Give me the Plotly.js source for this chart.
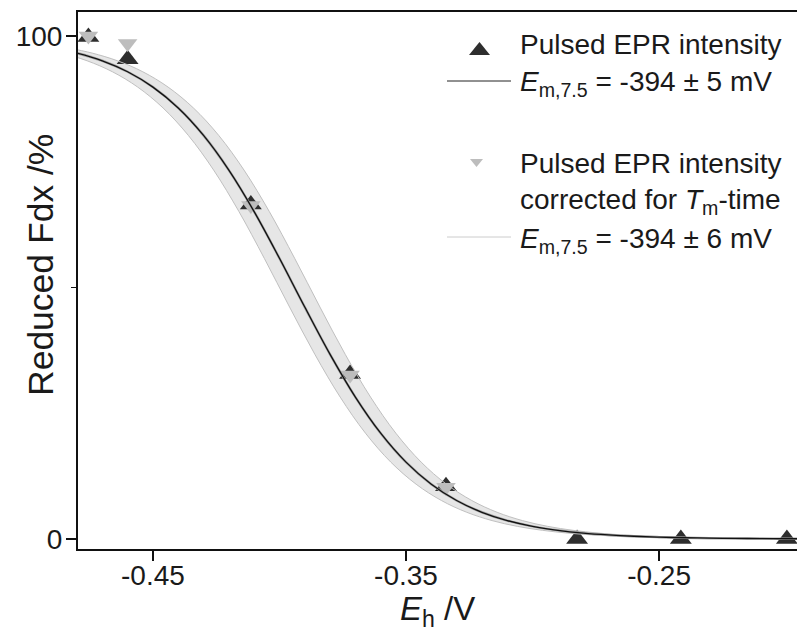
<!DOCTYPE html>
<html>
<head>
<meta charset="utf-8">
<script src="https://cdn.plot.ly/plotly-3.0.1.min.js"></script>
<style>html,body{margin:0;padding:0;background:#fff;}#chart{width:797px;height:641px;}</style>
</head>
<body>
<div id="chart"></div>
<script>
// Potential (V) grid of the Nernst fit curve
const fitE = [-0.49,-0.48,-0.47,-0.46,-0.45,-0.44,-0.43,-0.42,-0.41,-0.40,-0.39,-0.38,-0.37,-0.36,-0.35,-0.34,-0.33,-0.32,-0.31,-0.30,-0.29,-0.28,-0.27,-0.26,-0.25,-0.24,-0.23,-0.22,-0.21,-0.20,-0.19,-0.18,-0.17];
// Fit curve (reduced Fdx %) for pulsed EPR intensity (black) and corrected intensity (gray)
const fitBlackY = [97.67,96.60,95.07,92.89,89.84,85.70,80.24,73.34,65.09,55.81,46.11,36.70,28.21,21.03,15.28,10.89,7.65,5.31,3.66,2.51,1.72,1.17,0.80,0.54,0.37,0.25,0.17,0.11,0.08,0.05,0.04,0.02,0.02];
const fitGrayY  = [97.67,96.60,95.07,92.89,89.84,85.70,80.24,73.34,65.09,55.81,46.11,36.70,28.21,21.03,15.28,10.89,7.65,5.31,3.66,2.51,1.72,1.17,0.80,0.54,0.37,0.25,0.17,0.11,0.08,0.05,0.04,0.02,0.02];
// Confidence band edges (curve shifted by +/- 6 mV)
const bandUpperE = [-0.484,-0.474,-0.464,-0.454,-0.444,-0.434,-0.424,-0.414,-0.404,-0.394,-0.384,-0.374,-0.364,-0.354,-0.344,-0.334,-0.324,-0.314,-0.304,-0.294,-0.284,-0.274,-0.264,-0.254,-0.244,-0.234,-0.224,-0.214,-0.204,-0.194,-0.184,-0.174,-0.164];
const bandLowerE = [-0.496,-0.486,-0.476,-0.466,-0.456,-0.446,-0.436,-0.426,-0.416,-0.406,-0.396,-0.386,-0.376,-0.366,-0.356,-0.346,-0.336,-0.326,-0.316,-0.306,-0.296,-0.286,-0.276,-0.266,-0.256,-0.246,-0.236,-0.226,-0.216,-0.206,-0.196,-0.186,-0.176];
const bandY = [97.67,96.60,95.07,92.89,89.84,85.70,80.24,73.34,65.09,55.81,46.11,36.70,28.21,21.03,15.28,10.89,7.65,5.31,3.66,2.51,1.72,1.17,0.80,0.54,0.37,0.25,0.17,0.11,0.08,0.05,0.04,0.02,0.02];
// Measured points
const pulsedE = [-0.4755,-0.4600,-0.4113,-0.3721,-0.3342,-0.2824,-0.2414,-0.1995];
const pulsedY = [99.8,95.4,66.5,32.8,10.5,0.0,0.0,0.0];
const correctedE = [-0.4755,-0.4600,-0.4113,-0.3721,-0.3342];
const correctedY = [100.0,98.5,66.3,32.6,10.3];
// Tick labels
const xTickVals = [-0.45,-0.35,-0.25];
const xTickText = ['-0.45','-0.35','-0.25'];
const yTickVals = [0,100];
const yTickText = ['0','100'];
const yMinorVals = [50];
// Legend texts
const legendTexts = [
  'Pulsed EPR intensity',
  '<i>E</i><sub>m,7.5</sub> = -394 ± 5 mV',
  'Pulsed EPR intensity',
  'corrected for <i>T</i><sub>m</sub>-time',
  '<i>E</i><sub>m,7.5</sub> = -394 ± 6 mV'
];

const FONT = 'Liberation Sans, Arial, Helvetica, sans-serif';
const W = 797, H = 641, ML = 78, MR = 0, MT = 12, MB = 92;
const PW = W - ML - MR, PH = H - MT - MB;
const px = x => (x - ML) / PW;
const py = y => (H - MB - y) / PH;

const traces = [
  {x: bandLowerE, y: bandY, mode: 'lines', line: {width: 0, shape: 'spline', color: 'rgba(0,0,0,0)'}, hoverinfo: 'skip', showlegend: false},
  {x: bandUpperE, y: bandY, mode: 'lines', fill: 'tonexty', fillcolor: '#e6e6e6', line: {width: 0, shape: 'spline', color: 'rgba(0,0,0,0)'}, hoverinfo: 'skip', showlegend: false},
  {x: pulsedE, y: pulsedY, mode: 'markers', marker: {symbol: 'triangle-up', size: 19, color: '#2e2e2e', line: {width: 0}}, showlegend: false},
  {x: correctedE, y: correctedY, mode: 'markers', marker: {symbol: 'triangle-down', size: 17, color: '#bdbdbd', line: {width: 0}}, showlegend: false},
  {x: bandLowerE, y: bandY, mode: 'lines', line: {width: 1, shape: 'spline', color: '#c0c0c0'}, hoverinfo: 'skip', showlegend: false},
  {x: bandUpperE, y: bandY, mode: 'lines', line: {width: 1, shape: 'spline', color: '#c0c0c0'}, hoverinfo: 'skip', showlegend: false},
  {x: fitE, y: fitGrayY, mode: 'lines', line: {width: 2.5, shape: 'spline', color: '#a6a6a6'}, showlegend: false},
  {x: fitE, y: fitBlackY, mode: 'lines', line: {width: 1.3, shape: 'spline', color: '#111111'}, showlegend: false}
];

const legendX = px(518);
const annotations = [
  {text: legendTexts[0], x: legendX, y: py(44.5)},
  {text: legendTexts[1], x: legendX, y: py(83)},
  {text: legendTexts[2], x: legendX, y: py(163.5)},
  {text: legendTexts[3], x: legendX, y: py(201)},
  {text: legendTexts[4], x: legendX, y: py(240)}
].map(a => Object.assign({xref: 'paper', yref: 'paper', xanchor: 'left', yanchor: 'middle', showarrow: false, font: {family: FONT, size: 28, color: '#1a1a1a'}}, a));

annotations.push({text: 'Reduced Fdx /%', xref: 'paper', yref: 'paper', x: px(41), y: py(265), textangle: -90, xanchor: 'center', yanchor: 'middle', showarrow: false, font: {family: FONT, size: 35.5, color: '#1a1a1a'}});
annotations.push({text: '<i>E</i><sub>h</sub> /V', xref: 'paper', yref: 'paper', x: px(437), y: py(611), xanchor: 'center', yanchor: 'middle', showarrow: false, font: {family: FONT, size: 33, color: '#1a1a1a'}});

const shapes = [
  {type: 'path', xref: 'paper', yref: 'paper', path: `M ${px(469)},${py(55)} L ${px(490)},${py(55)} L ${px(479.5)},${py(42)} Z`, fillcolor: '#2e2e2e', line: {width: 0}},
  {type: 'line', xref: 'paper', yref: 'paper', x0: px(447), x1: px(511), y0: py(81), y1: py(81), line: {color: '#222222', width: 1}},
  {type: 'path', xref: 'paper', yref: 'paper', path: `M ${px(470)},${py(159)} L ${px(483)},${py(159)} L ${px(476.5)},${py(167)} Z`, fillcolor: '#bdbdbd', line: {width: 0}},
  {type: 'line', xref: 'paper', yref: 'paper', x0: px(447), x1: px(511), y0: py(237), y1: py(237), line: {color: '#cccccc', width: 1}}
];

const layout = {
  width: W, height: H,
  margin: {l: ML, r: MR, t: MT, b: MB, pad: 0},
  paper_bgcolor: '#ffffff', plot_bgcolor: '#ffffff',
  showlegend: false,
  font: {family: FONT, size: 28, color: '#1a1a1a'},
  xaxis: {
    range: [-0.4796, -0.1955], showgrid: false, zeroline: false,
    showline: true, linewidth: 2, linecolor: '#111', mirror: true,
    ticks: 'outside', ticklen: 10, tickwidth: 1.5, tickcolor: '#111',
    tickmode: 'array', tickvals: xTickVals, ticktext: xTickText,
    ticklabelstandoff: -10,
    tickfont: {family: FONT, size: 28, color: '#1a1a1a'}
  },
  yaxis: {
    range: [-1.99, 104.77], showgrid: false, zeroline: false,
    showline: true, linewidth: 2, linecolor: '#111', mirror: false,
    ticks: 'outside', ticklen: 10, tickwidth: 1.5, tickcolor: '#111',
    tickmode: 'array', tickvals: yTickVals, ticktext: yTickText,
    ticklabelstandoff: -2,
    tickfont: {family: FONT, size: 28, color: '#1a1a1a'},
    minor: {tickmode: 'array', tickvals: yMinorVals, ticks: 'outside', ticklen: 5, tickwidth: 1.5, tickcolor: '#111', showgrid: false}
  },
  annotations: annotations,
  shapes: shapes
};

Plotly.newPlot('chart', traces, layout, {staticPlot: true, displayModeBar: false});
</script>
</body>
</html>
